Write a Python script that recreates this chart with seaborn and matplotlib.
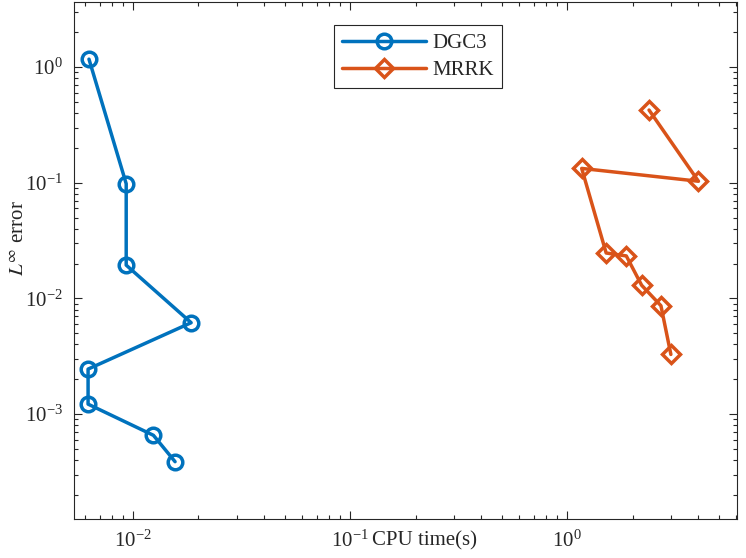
import numpy as np
import pandas as pd
import matplotlib
matplotlib.use("Agg")
import matplotlib.pyplot as plt
import matplotlib.ticker as mticker
import seaborn as sns

# Data
dgc3_time = [0.00626, 0.00929, 0.00929, 0.0185, 0.0062, 0.0062, 0.0124, 0.0156]
dgc3_err = [1.17, 0.098, 0.0194, 0.00617, 0.00245, 0.00122, 0.000656, 0.000388]
mrrk_time = [2.38, 4.02, 1.165, 1.51, 1.87, 2.20, 2.70, 3.0]
mrrk_err = [0.425, 0.103, 0.133, 0.0247, 0.0233, 0.0130, 0.00865, 0.00328]
series_names = ["DGC3", "MRRK"]
x_ticks = [1e-2, 1e-1, 1e0]
y_ticks = [1e-3, 1e-2, 1e-1, 1e0]

sns.set_theme(style="ticks")
plt.rcParams["font.family"] = ["Liberation Serif", "DejaVu Serif"]
plt.rcParams["mathtext.fontset"] = "stix"

fig = plt.figure(figsize=(7.46, 5.58), dpi=100)
ax = fig.add_axes([74 / 746, 1 - 519 / 558, (737 - 74) / 746, (519 - 2) / 558])

blue = "#0072BD"
orange = "#D95319"

df1 = pd.DataFrame({"t": dgc3_time, "e": dgc3_err})
df2 = pd.DataFrame({"t": mrrk_time, "e": mrrk_err})

sns.lineplot(data=df1, x="t", y="e", ax=ax, sort=False, estimator=None,
             color=blue, lw=2.5, marker="o", ms=10.5, mfc="none", mec=blue,
             mew=2.5, label=series_names[0])
sns.lineplot(data=df2, x="t", y="e", ax=ax, sort=False, estimator=None,
             color=orange, lw=2.5, marker="D", ms=9.5, mfc="none", mec=orange,
             mew=2.5, label=series_names[1])

ax.set_xscale("log")
ax.set_yscale("log")
ax.set_xlim(0.00534, 6.05)
ax.set_ylim(1.24e-4, 3.65)
ax.set_xticks(x_ticks)
ax.set_yticks(y_ticks)
ax.xaxis.set_minor_locator(mticker.LogLocator(base=10, subs=np.arange(2, 10), numticks=20))
ax.yaxis.set_minor_locator(mticker.LogLocator(base=10, subs=np.arange(2, 10), numticks=20))
ax.xaxis.set_minor_formatter(mticker.NullFormatter())
ax.yaxis.set_minor_formatter(mticker.NullFormatter())

dark = "#262626"
for s in ax.spines.values():
    s.set_visible(True)
    s.set_color(dark)
    s.set_linewidth(0.8)
ax.tick_params(which="both", direction="in", top=True, right=True, colors=dark,
               labelsize=15, width=0.8)
ax.tick_params(which="major", length=5.5, pad=8)
ax.tick_params(which="minor", length=3)

ax.set_xlabel("CPU time(s)", fontsize=15, color=dark)
ax.xaxis.set_label_coords((424 - 74) / 663, (519 - 541) / 517)
ax.xaxis.label.set_verticalalignment("center")
ax.set_ylabel("$L^{\\infty}$ error", fontsize=15, color=dark)
ax.yaxis.set_label_coords((20 - 74) / 663, (519 - 238) / 517)
ax.yaxis.label.set_verticalalignment("center")

leg = ax.legend(loc="upper left", bbox_to_anchor=((334 - 74) / 663, (519 - 25) / 517),
                fontsize=15, handlelength=4.0, fancybox=False, framealpha=1,
                edgecolor=dark, borderaxespad=0, labelspacing=0.35,
                handletextpad=0.3, borderpad=0.4)
leg.get_frame().set_linewidth(0.8)

fig.savefig("out.png", dpi=100)
